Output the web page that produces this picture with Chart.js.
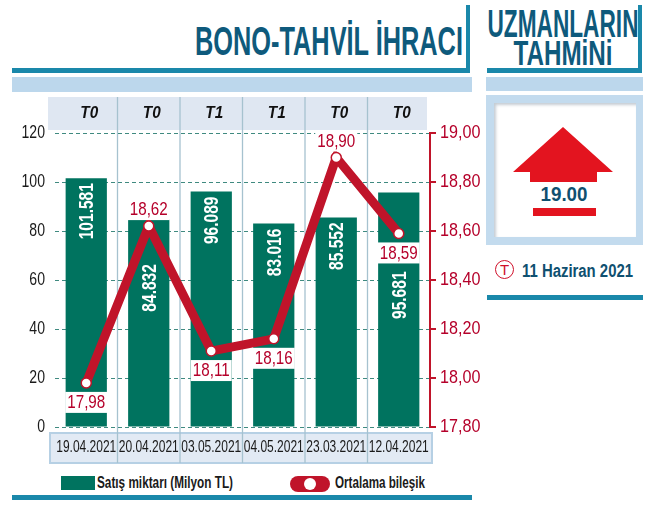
<!DOCTYPE html>
<html>
<head>
<meta charset="utf-8">
<script src="https://cdn.jsdelivr.net/npm/chart.js@4.4.0/dist/chart.umd.min.js"></script>
<style>
  body { margin: 0; background: #fff; }
  #wrap { position: relative; width: 652px; height: 508px; overflow: hidden;
          font-family: "Liberation Sans", Arial, sans-serif; }
  #chart { position: absolute; left: 0; top: 0; z-index: 2; }
  .abs { position: absolute; }
  .teal { background: #1a88aa; }
  .band { background: #bcd7ec; }
  .head { color: #0e5a7c; white-space: nowrap; line-height: 1; }
  .legend { font-size: 17px; font-weight: bold; color: #1a1a1a; white-space: nowrap; line-height: 1; }
</style>
</head>
<body>
<div id="wrap">
  <!-- left header -->
  <div class="abs head fit" data-w="268" data-anchor="right"
       style="right:189px; top:21px; font-size:40px; font-weight:bold;">BONO-TAHVİL İHRACI</div>
  <div class="abs teal" style="left:12px; top:68px; width:458px; height:5px;"></div>
  <div class="abs teal" style="left:466px; top:5px; width:4px; height:68px;"></div>
  <div class="abs band" style="left:12px; top:77px; width:460px; height:15px;"></div>

  <!-- right panel -->
  <div class="abs head fit" data-w="151" data-anchor="center"
       style="left:563px; top:5px; font-size:38px; font-weight:bold;">UZMANLARIN</div>
  <div class="abs head fit" data-w="99" data-anchor="center"
       style="left:563px; top:35px; font-size:35px; font-weight:bold;">TAHMiNi</div>
  <div class="abs teal" style="left:487px; top:68px; width:155px; height:5px;"></div>
  <div class="abs teal" style="left:638px; top:5px; width:4px; height:68px;"></div>
  <div class="abs band" style="left:486px; top:77px; width:157px; height:14px;"></div>
  <div class="abs" style="left:486px; top:95px; width:157px; height:150px; background:#c3dbee;"></div>
  <div class="abs" style="left:494px; top:103px; width:142px; height:134px; background:#fff;
       box-shadow: inset 2px 2px 3px rgba(90,110,130,0.35);"></div>
  <svg class="abs" style="left:486px; top:95px;" width="157" height="150">
    <polygon points="77,32 127,77 111,77 111,87 44,87 44,77 27,77" fill="#e3141f"/>
    <rect x="47" y="113" width="63" height="8" fill="#e3141f"/>
  </svg>
  <div class="abs head fit" data-w="47" data-anchor="center"
       style="left:564px; top:183px; font-size:21px; font-weight:bold; color:#0f5070;">19.00</div>
  <div class="abs" style="left:495px; top:260px; width:17px; height:17px; border:1.5px solid #d0102a; border-radius:50%;
       color:#d0102a; font-size:15px; text-align:center; line-height:18px;">T</div>
  <div class="abs head fit" data-w="111" data-anchor="left"
       style="left:522px; top:262px; font-size:18px; font-weight:bold; color:#0f5070;">11 Haziran 2021</div>
  <div class="abs teal" style="left:487px; top:295px; width:156px; height:5px;"></div>

  <!-- legend -->
  <div class="abs" style="left:61px; top:476px; width:34px; height:14px; background:#00735f;"></div>
  <div class="abs legend fit" data-w="136" data-anchor="left" style="left:97px; top:474px;">Satış miktarı (Milyon TL)</div>
  <div class="abs" style="left:290px; top:476px; width:40px; height:16px; border-radius:8px; background:#c0142a;"></div>
  <div class="abs" style="left:304px; top:478px; width:12px; height:12px; border-radius:50%; background:#fff;"></div>
  <div class="abs legend fit" data-w="90" data-anchor="left" style="left:335px; top:474px;">Ortalama bileşik</div>
  <div class="abs teal" style="left:12px; top:495px; width:460px; height:5px;"></div>

  <canvas id="chart" width="652" height="508"></canvas>
</div>

<script>
// Data
const dates = ["19.04.2021", "20.04.2021", "03.05.2021", "04.05.2021", "23.03.2021", "12.04.2021"];
const tenors = ["T0", "T0", "T1", "T1", "T0", "T0"];
const sales = [101.581, 84.832, 96.089, 83.016, 85.552, 95.681]; // Satış miktarı (Milyon TL)
const avgRate = [17.98, 18.62, 18.11, 18.16, 18.90, 18.59];      // Ortalama bileşik
const salesTicks = { min: 0, max: 120, step: 20 };
const rateTicks = { min: 17.8, max: 19.0, step: 0.2 };

const GREEN = "#00735f";
const RED = "#c0142a";
const RED_TEXT = "#b5002a";
const FONT = '"Liberation Sans", Arial, sans-serif';

// squeeze html texts to the widths they have in the picture
document.querySelectorAll(".fit").forEach(el => {
  const s = Number(el.dataset.w) / el.getBoundingClientRect().width;
  const a = el.dataset.anchor;
  if (a === "right") { el.style.transformOrigin = "right top"; el.style.transform = `scaleX(${s})`; }
  else if (a === "center") { el.style.transformOrigin = "center top"; el.style.transform = `translateX(-50%) scaleX(${s})`; }
  else { el.style.transformOrigin = "left top"; el.style.transform = `scaleX(${s})`; }
});

const comma = v => v.toFixed(2).replace(".", ",");

// condensed text: the font is squeezed horizontally by sx
function text(ctx, s, x, y, font, color, align, sx) {
  ctx.save();
  ctx.translate(x, y);
  ctx.scale(sx, 1);
  ctx.font = font;
  ctx.fillStyle = color;
  ctx.textAlign = align;
  ctx.textBaseline = "middle";
  ctx.fillText(s, 0, 0);
  ctx.restore();
}

const framePlugin = {
  id: "frame",
  // header band, column dividers and date row
  beforeDraw(chart) {
    const { ctx, chartArea: a, scales: { x } } = chart;
    ctx.save();
    ctx.fillStyle = "#dfe7f2";
    ctx.fillRect(a.left - 7, 97, a.right - a.left + 4, 33);
    ctx.fillStyle = "#e2eaf4";
    ctx.fillRect(a.left - 5, 433, a.right - a.left + 7, 30);
    ctx.strokeStyle = "#b6d0e4";
    ctx.lineWidth = 2;
    ctx.strokeRect(a.left - 5, 433, a.right - a.left + 7, 30);

    ctx.strokeStyle = "#a6c2cf";
    ctx.lineWidth = 1.3;
    for (let i = 0; i < dates.length - 1; i++) {
      const xm = (x.getPixelForValue(i) + x.getPixelForValue(i + 1)) / 2;
      ctx.beginPath();
      ctx.moveTo(xm, 97);
      ctx.lineTo(xm, 463);
      ctx.stroke();
    }
    ctx.restore();

    tenors.forEach((t, i) =>
      text(ctx, t, x.getPixelForValue(i) + 3, 113, `italic bold 17px ${FONT}`, "#111", "center", 0.9));
    dates.forEach((d, i) =>
      text(ctx, d, x.getPixelForValue(i), 448, `16px ${FONT}`, "#1a1a1a", "center", 0.75));
  },
  afterDatasetsDraw(chart) {
    const { ctx, scales: { y, y1 } } = chart;

    // axis labels
    y.ticks.forEach(t =>
      text(ctx, String(t.value), 45, y.getPixelForValue(t.value), `19px ${FONT}`, "#1a1a1a", "right", 0.74));
    y1.ticks.forEach(t =>
      text(ctx, comma(t.value), 440, y1.getPixelForValue(t.value), `19px ${FONT}`, RED_TEXT, "left", 0.85));

    const bars = chart.getDatasetMeta(0).data;
    const pts = chart.getDatasetMeta(1).data;

    // values inside the bars, rotated
    bars.forEach((bar, i) => {
      const py = pts[i].y;
      let start = bar.y + 5;
      if (py > bar.y - 10 && py < bar.y + 70) start = py + 38;
      ctx.save();
      ctx.translate(bar.x + 1, start);
      ctx.rotate(-Math.PI / 2);
      ctx.scale(0.74, 1);
      ctx.font = `bold 21px ${FONT}`;
      ctx.fillStyle = "#fff";
      ctx.textAlign = "right";
      ctx.textBaseline = "middle";
      ctx.fillText(sales[i].toFixed(3), 0, 0);
      ctx.restore();
    });

    // rate labels: above peaks, below otherwise
    pts.forEach((p, i) => {
      const prev = i > 0 ? avgRate[i - 1] : -Infinity;
      const next = i < avgRate.length - 1 ? avgRate[i + 1] : -Infinity;
      const peak = avgRate[i] > prev && avgRate[i] > next;
      const ly = peak ? p.y - 17 : p.y + 19;
      const s = comma(avgRate[i]);
      ctx.save();
      ctx.font = `19px ${FONT}`;
      const w = ctx.measureText(s).width * 0.8;
      ctx.fillStyle = "#fff";
      ctx.fillRect(p.x - w / 2 - 2, ly - 10, w + 4, 21);
      ctx.restore();
      text(ctx, s, p.x, ly + 1, `19px ${FONT}`, RED_TEXT, "center", 0.8);
    });
  }
};

Chart.defaults.font.family = FONT;

new Chart(document.getElementById("chart"), {
  data: {
    labels: dates,
    datasets: [
      {
        type: "bar",
        label: "Satış miktarı (Milyon TL)",
        data: sales,
        yAxisID: "y",
        backgroundColor: GREEN,
        categoryPercentage: 1,
        barPercentage: 0.66,
        order: 2
      },
      {
        type: "line",
        label: "Ortalama bileşik",
        data: avgRate,
        yAxisID: "y1",
        borderColor: RED,
        borderWidth: 9,
        tension: 0,
        pointRadius: 5,
        pointBackgroundColor: "#fff",
        pointBorderColor: RED,
        pointBorderWidth: 1.5,
        order: 1
      }
    ]
  },
  options: {
    responsive: false,
    animation: false,
    layout: { padding: { top: 133, left: 0, right: 0, bottom: 0 } },
    plugins: { legend: { display: false }, tooltip: { enabled: false } },
    scales: {
      x: {
        grid: { display: false, drawTicks: false },
        border: { display: false },
        ticks: { display: false },
        afterFit: s => { s.height = 81; }
      },
      y: {
        position: "left",
        min: salesTicks.min,
        max: salesTicks.max,
        ticks: { stepSize: salesTicks.step, display: false },
        grid: { color: "#3f8a80", lineWidth: 1, drawTicks: false },
        border: { display: false, dash: [4, 3] },
        afterFit: s => { s.width = 55; }
      },
      y1: {
        position: "right",
        min: rateTicks.min,
        max: rateTicks.max,
        ticks: { stepSize: rateTicks.step, display: false },
        grid: { drawOnChartArea: false, color: RED, lineWidth: 2, tickLength: 6 },
        border: { display: true, color: RED, width: 2 },
        afterFit: s => { s.width = 222; }
      }
    }
  },
  plugins: [framePlugin]
});
</script>
</body>
</html>
